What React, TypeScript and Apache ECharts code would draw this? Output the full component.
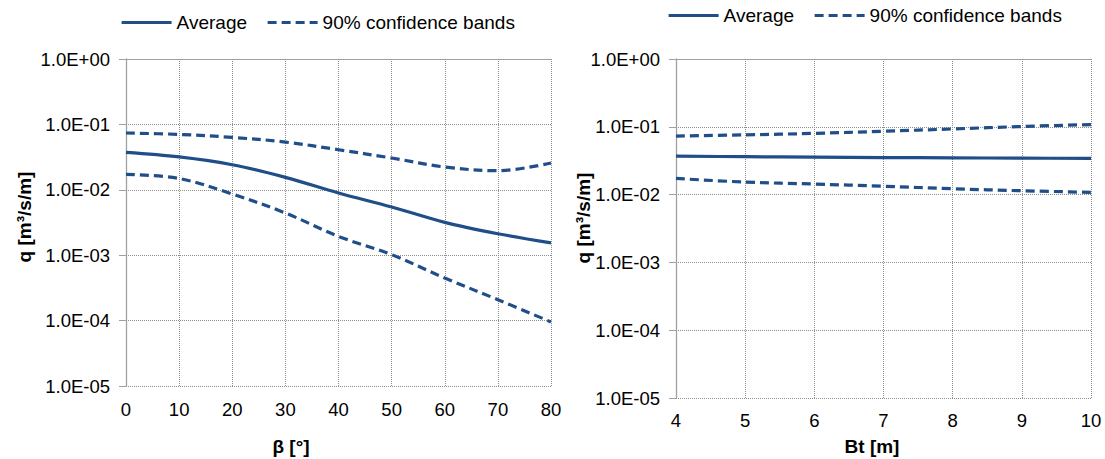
import React, { useEffect, useRef } from "react";
import * as echarts from "echarts";

// Left chart: discharge vs angle beta
const betaDeg = [0, 10, 20, 30, 40, 50, 60, 70, 80];
const betaAverage = [0.0373, 0.0318, 0.0242, 0.0155, 0.00893, 0.00546, 0.00318, 0.00213, 0.00154];
const betaUpper = [0.0739, 0.0703, 0.0633, 0.0537, 0.041, 0.0306, 0.0223, 0.0196, 0.0257];
const betaLower = [0.0172, 0.0149, 0.00863, 0.00442, 0.00194, 0.00102, 0.000448, 0.000209, 0.0000953];

// Right chart: discharge vs berm width Bt
const btM = [4, 5, 6, 7, 8, 9, 10];
const btAverage = [0.0369, 0.0362, 0.0357, 0.0352, 0.0348, 0.0345, 0.0342];
const btUpper = [0.073, 0.076, 0.08, 0.086, 0.093, 0.101, 0.108];
const btLower = [0.0173, 0.0153, 0.0143, 0.0133, 0.0122, 0.0114, 0.0108];

const yTickLabels = ["1.0E-05", "1.0E-04", "1.0E-03", "1.0E-02", "1.0E-01", "1.0E+00"];
const seriesNames = ["Average", "90% confidence bands"];

const FONT = "'Liberation Sans', Arial, sans-serif";
const LINE_COLOR = "#1F4E89";
const GRID_COLOR = "#8c8c8c";
const AXIS_COLOR = "#a0a0a0";

const pairs = (xs: number[], ys: number[]) => xs.map((x, i) => [x, ys[i]]);

const yFormatter = (v: number) => {
  const e = Math.round(Math.log10(v));
  return yTickLabels[e + 5] ?? "";
};

function makeYAxis(gridIndex: number) {
  return {
    type: "log",
    logBase: 10,
    gridIndex,
    min: 1e-5,
    max: 1,
    axisLine: { show: true, lineStyle: { color: AXIS_COLOR, width: 1.3 } },
    axisTick: { show: true, length: 7, lineStyle: { color: AXIS_COLOR } },
    axisLabel: { color: "#000", fontSize: 18.5, fontFamily: FONT, margin: 16, formatter: yFormatter },
    splitLine: { show: true, lineStyle: { color: GRID_COLOR, type: [1, 1], width: 1 } },
    minorTick: { show: false },
  };
}

function makeXAxis(gridIndex: number, min: number, max: number, interval: number, margin: number) {
  return {
    type: "value",
    gridIndex,
    min,
    max,
    interval,
    axisLine: { show: false },
    axisTick: { show: false },
    axisLabel: { color: "#000", fontSize: 18.5, fontFamily: FONT, margin },
    splitLine: { show: true, lineStyle: { color: GRID_COLOR, type: [1, 1], width: 1 } },
  };
}

function makeTopAxis(gridIndex: number, min: number, max: number) {
  return {
    type: "value",
    gridIndex,
    position: "top",
    min,
    max,
    axisLine: { show: true, onZero: false, lineStyle: { color: AXIS_COLOR, width: 1 } },
    axisTick: { show: false },
    axisLabel: { show: false },
    splitLine: { show: false },
  };
}

function line(name: string, xAxisIndex: number, yAxisIndex: number, data: number[][], dashed: boolean) {
  return {
    type: "line",
    name,
    xAxisIndex,
    yAxisIndex,
    data,
    smooth: 0.35,
    symbol: "none",
    showSymbol: false,
    lineStyle: { color: LINE_COLOR, width: 3.2, type: dashed ? [9, 5] : "solid" },
    itemStyle: { color: LINE_COLOR },
  };
}

export default function App() {
  const ref = useRef<HTMLDivElement>(null);

  useEffect(() => {
    if (!ref.current) return;
    const chart = echarts.init(ref.current, undefined, { renderer: "svg" });

    const legendBase = {
      data: seriesNames,
      orient: "horizontal",
      itemWidth: 50,
      itemHeight: 14,
      itemGap: 19,
      itemStyle: { opacity: 0 },
      lineStyle: { width: 3.2 },
      textStyle: { color: "#000", fontSize: 19, fontFamily: FONT },
      selectedMode: false,
    };

    const option = {
      animation: false,
      backgroundColor: "#fff",
      grid: [
        { left: 126, top: 59, width: 425, height: 327 },
        { left: 676, top: 59, width: 415, height: 339 },
      ],
      legend: [
        { ...legendBase, left: 115, top: 8 },
        { ...legendBase, left: 662, top: 1 },
      ],
      xAxis: [
        makeXAxis(0, 0, 80, 10, 14),
        makeTopAxis(0, 0, 80),
        makeXAxis(1, 4, 10, 1, 13),
        makeTopAxis(1, 4, 10),
      ],
      yAxis: [makeYAxis(0), makeYAxis(1)],
      series: [
        line(seriesNames[0], 0, 0, pairs(betaDeg, betaAverage), false),
        line(seriesNames[1], 0, 0, pairs(betaDeg, betaUpper), true),
        line(seriesNames[1], 0, 0, pairs(betaDeg, betaLower), true),
        line(seriesNames[0], 2, 1, pairs(btM, btAverage), false),
        line(seriesNames[1], 2, 1, pairs(btM, btUpper), true),
        line(seriesNames[1], 2, 1, pairs(btM, btLower), true),
      ],
      graphic: [
        {
          type: "text",
          x: 24,
          y: 217,
          rotation: Math.PI / 2,
          style: { text: "q [m³/s/m]", fill: "#000", font: `bold 19px ${FONT}`, textAlign: "center", textVerticalAlign: "middle", verticalAlign: "middle" },
        },
        {
          type: "text",
          x: 583,
          y: 218,
          rotation: Math.PI / 2,
          style: { text: "q [m³/s/m]", fill: "#000", font: `bold 19px ${FONT}`, textAlign: "center", textVerticalAlign: "middle", verticalAlign: "middle" },
        },
        {
          type: "text",
          x: 291,
          y: 446,
          style: { text: "β [°]", fill: "#000", font: `bold 19px ${FONT}`, textAlign: "center", textVerticalAlign: "middle", verticalAlign: "middle" },
        },
        {
          type: "text",
          x: 872,
          y: 446,
          style: { text: "Bt [m]", fill: "#000", font: `bold 19px ${FONT}`, textAlign: "center", textVerticalAlign: "middle", verticalAlign: "middle" },
        },
      ],
    };

    chart.setOption(option as any);
    return () => chart.dispose();
  }, []);

  return (
    <div
      ref={ref}
      style={{ position: "fixed", left: 0, top: 0, width: 1105, height: 459, background: "#fff" }}
    />
  );
}
